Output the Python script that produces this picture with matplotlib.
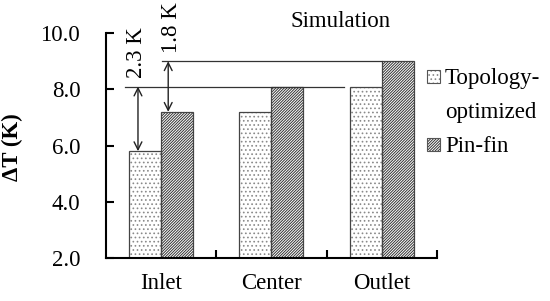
import matplotlib.pyplot as plt
import matplotlib.patches as mpatches
import numpy as np

plt.rcParams['font.family'] = ['Liberation Serif', 'DejaVu Serif']
plt.rcParams['hatch.linewidth'] = 0.7

# data
categories = ['Inlet', 'Center', 'Outlet']
topology = [5.8, 7.2, 8.1]
pinfin = [7.2, 8.1, 9.0]
series_names = ['Topology-\noptimized', 'Pin-fin']
yticks = [2.0, 4.0, 6.0, 8.0, 10.0]

fs = 16.5
w = 0.29
x = np.arange(len(categories))
dot_hatch = '....'
line_hatch = '////////////'
W, H = 550.0, 301.0

fig = plt.figure(figsize=(5.5, 3.01), dpi=100)
ax = fig.add_axes([0.1927, 0.1429, 0.6018, 0.747])

# hatched fills, then outlines
ax.bar(x - w / 2, topology, w, color='white', edgecolor='#8a8a8a',
       hatch=dot_hatch, linewidth=0)
ax.bar(x + w / 2, pinfin, w, color='white', edgecolor='#333333',
       hatch=line_hatch, linewidth=0)
ax.bar(x - w / 2, topology, w, fill=False, edgecolor='#444444', linewidth=0.9)
ax.bar(x + w / 2, pinfin, w, fill=False, edgecolor='#444444', linewidth=0.9)

ax.set_ylim(2.0, 10.0)
ax.set_xlim(-0.5, 2.5)
ax.set_yticks(yticks)
ax.set_yticklabels([f'{t:.1f}' for t in yticks], fontsize=fs)
ax.set_xticks(x)
ax.set_xticklabels(categories, fontsize=fs)
ax.tick_params(axis='x', which='major', length=0, pad=11)
ax.set_xticks([0.5, 1.5, 2.5], minor=True)
ax.tick_params(axis='x', which='minor', direction='in', length=6, width=1.5)
ax.tick_params(axis='y', direction='in', length=6, width=1.5, pad=18.5)
for s in ['top', 'right']:
    ax.spines[s].set_visible(False)
for s in ['left', 'bottom']:
    ax.spines[s].set_linewidth(1.5)

ax.set_ylabel('ΔT (K)', fontsize=fs, fontweight='bold')
ax.yaxis.set_label_coords(23 / W, 1 - 147 / H, transform=fig.transFigure)

# reference lines and difference arrows
d1 = topology[2] - topology[0]
d2 = pinfin[2] - pinfin[0]
ax.plot([-0.33, 1.66], [topology[2]] * 2, color='#333333', lw=0.9, clip_on=False)
ax.plot([0.01, 2.0], [pinfin[2]] * 2, color='#333333', lw=0.9, clip_on=False)
ax.annotate('', xy=(-0.21, topology[0]), xytext=(-0.21, topology[2]),
            arrowprops=dict(arrowstyle='<->', color='#222222', lw=1.0,
                            shrinkA=0, shrinkB=0, mutation_scale=14))
ax.annotate('', xy=(0.064, pinfin[0]), xytext=(0.064, pinfin[2]),
            arrowprops=dict(arrowstyle='<->', color='#222222', lw=1.0,
                            shrinkA=0, shrinkB=0, mutation_scale=14))
ax.text(-0.22, 9.32, f'{d1:.1f} K', rotation=90, ha='center', va='center',
        fontsize=fs, clip_on=False)
ax.text(0.09, 10.2, f'{d2:.1f} K', rotation=90, ha='center', va='center',
        fontsize=fs, clip_on=False)

ax.text(1.63, 10.43, 'Simulation', ha='center', va='center', fontsize=fs,
        clip_on=False)

# legend drawn by hand: box sits beside the first line of each label
legend_rows = [(70, dot_hatch, '#8a8a8a'), (138, line_hatch, '#333333')]
for (ytop, hatch, hc), name in zip(legend_rows, series_names):
    for fill_kw in (dict(facecolor='white', edgecolor=hc, hatch=hatch, linewidth=0),
                    dict(fill=False, edgecolor='#555555', linewidth=0.8)):
        fig.add_artist(mpatches.Rectangle((427 / W, 1 - (ytop + 13) / H), 13 / W, 13 / H,
                                          transform=fig.transFigure, **fill_kw))
    for i, line in enumerate(name.split('\n')):
        fig.text(445 / W, 1 - (ytop + 14 + 34 * i) / H, line, ha='left',
                 va='baseline', fontsize=fs)

fig.savefig('out.png', dpi=100)
